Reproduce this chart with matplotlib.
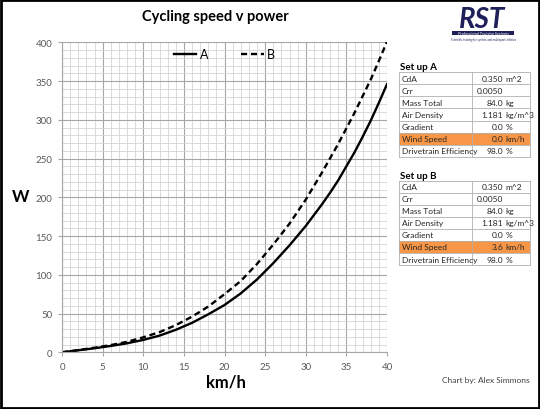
import matplotlib
matplotlib.use("Agg")
import matplotlib.pyplot as plt
from matplotlib.patches import Rectangle
from matplotlib.lines import Line2D
from matplotlib.ticker import MultipleLocator

plt.rcParams['font.family'] = ['Lato', 'DejaVu Sans']

# ---- data ----
speed_kmh = [0, 2, 4, 6, 8, 10, 12, 14, 16, 18, 20, 21, 22, 23, 24, 25, 26, 27, 28, 29, 30,
             31, 32, 33, 34, 35, 36, 37, 38, 39, 40]
power_a = [0, 2.6, 5.2, 8.2, 11.6, 16.0, 21.5, 29, 38, 49, 61, 68.5, 76, 85, 94, 104.5, 115,
           126.5, 138, 150.5, 163, 177, 191, 206, 222, 240, 258, 278, 299, 322, 346]
power_b = [0, 2.8, 5.9, 9.3, 13.5, 19.3, 26, 35, 46, 59, 75, 83.5, 92, 103, 114, 126.5, 139,
           152.5, 166, 181.5, 197, 214.5, 232, 250.5, 269, 289, 309, 330.5, 352, 376, 401]
series_names = ["A", "B"]

param_labels = ["CdA", "Crr", "Mass Total", "Air Density", "Gradient", "Wind Speed", "Drivetrain Efficiency"]
param_numbers_a = ["0.350", "0.0050", "84.0", "1.181", "0.0", "0.0", "98.0"]
param_numbers_b = ["0.350", "0.0050", "84.0", "1.181", "0.0", "3.6", "98.0"]
param_units = ["m^2", "", "kg", "kg/m^3", "%", "km/h", "%"]
highlight_row = "Wind Speed"

W, H = 540, 410
fig = plt.figure(figsize=(W / 100, H / 100), dpi=100)
fig.patch.set_facecolor("white")

def fx(x):
    return x / W

def fy(y):
    return 1 - y / H

# ---- axes ----
x0, x1, y0, y1 = 62, 387, 43.3, 353.3
ax = fig.add_axes([fx(x0), fy(y1), (x1 - x0) / W, (y1 - y0) / H])
ax.plot(speed_kmh, power_a, color="black", lw=1.7, label=series_names[0])
ax.plot(speed_kmh, power_b, color="black", lw=1.7, ls=(0, (2.6, 1.6)), label=series_names[1])
ax.set_xlim(0, 40)
ax.set_ylim(0, 400)
ax.xaxis.set_major_locator(MultipleLocator(5))
ax.xaxis.set_minor_locator(MultipleLocator(1))
ax.yaxis.set_major_locator(MultipleLocator(50))
ax.yaxis.set_minor_locator(MultipleLocator(10))
ax.grid(which="major", color="#A6A6A6", lw=0.8)
ax.grid(which="minor", color="#D4D4D4", lw=0.6)
ax.set_axisbelow(True)
for s in ["top", "right"]:
    ax.spines[s].set_visible(False)
for s in ["left", "bottom"]:
    ax.spines[s].set_color("#A6A6A6")
    ax.spines[s].set_linewidth(0.8)
ax.tick_params(which="major", length=3, color="#A6A6A6", labelsize=7, labelcolor="#595959", pad=4)
ax.tick_params(which="minor", length=0)

leg = ax.legend(loc="center", bbox_to_anchor=(0.50, 0.962), ncol=2, frameon=False,
                fontsize=9, handlelength=1.8, handletextpad=0.3, columnspacing=2.6)

# axis titles
fig.text(fx(21), fy(197), "W", ha="center", va="center", fontsize=12, fontweight="bold", color="black")
fig.text(fx(226), fy(383), "km/h", ha="center", va="center", fontsize=12, fontweight="bold", color="black")
fig.text(fx(215), fy(17), "Cycling speed v power", ha="center", va="center", fontsize=10.5,
         fontweight="bold", color="black")

# ---- parameter tables ----
def draw_table(title, title_y, top, numbers):
    row_h = 12.05
    left, mid, right = 399.3, 471.7, 530
    fig.text(fx(400.5), fy(title_y), title, ha="left", va="center", fontsize=7, fontweight="bold",
             color="black")
    n = len(param_labels)
    for i, lab in enumerate(param_labels):
        ty = top + i * row_h
        if lab == highlight_row:
            fig.add_artist(Rectangle((fx(left), fy(ty + row_h)), (right - left) / W, row_h / H,
                                     transform=fig.transFigure, facecolor="#F79646", edgecolor="none"))
        cy = ty + row_h / 2
        fig.text(fx(401.5), fy(cy), lab, ha="left", va="center", fontsize=6, color="#262626")
        fig.text(fx(503), fy(cy), numbers[i], ha="right", va="center", fontsize=6, color="#262626")
        if param_units[i]:
            fig.text(fx(505.5), fy(cy), param_units[i], ha="left", va="center", fontsize=6, color="#262626")
    for i in range(n + 1):
        yy = top + i * row_h
        fig.add_artist(Line2D([fx(left), fx(right)], [fy(yy), fy(yy)], color="#B0B0B0", lw=0.6))
    for xx in (left, mid, right):
        fig.add_artist(Line2D([fx(xx), fx(xx)], [fy(top), fy(top + n * row_h)], color="#B0B0B0", lw=0.6))

draw_table("Set up A", 67.5, 73.3, param_numbers_a)
draw_table("Set up B", 176.5, 181.7, param_numbers_b)

fig.text(fx(530), fy(381), "Chart by: Alex Simmons", ha="right", va="center", fontsize=6, color="#404040")

# ---- logo approximation ----
fig.text(fx(482), fy(20), "RST", ha="center", va="center", fontsize=20, fontweight="bold",
         fontstyle="italic", color="#1F1F5A")
fig.add_artist(Rectangle((fx(452), fy(36)), 62 / W, 4 / H, transform=fig.transFigure,
                         facecolor="#1F1F5A", edgecolor="none"))
fig.text(fx(483), fy(34), "Professional Training Systems", ha="center", va="center", fontsize=3,
         fontstyle="italic", color="white")
fig.text(fx(484), fy(39.5), "Scientific training for cyclists and multisport athletes", ha="center",
         va="center", fontsize=2, color="#1F1F5A")

# ---- outer border ----
fig.add_artist(Rectangle((0.002, 0.002), 0.996, 0.996, transform=fig.transFigure, fill=False,
                         edgecolor="black", lw=2))

fig.savefig("out.png", dpi=100)
